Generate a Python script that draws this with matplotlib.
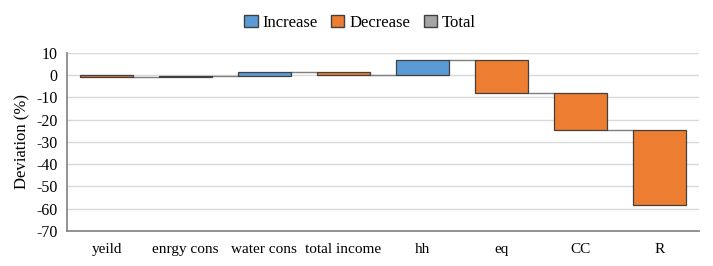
import matplotlib
matplotlib.use("Agg")
import matplotlib.pyplot as plt
from matplotlib.patches import Patch
import numpy as np

# Waterfall data (change in % deviation per step)
categories = ["yeild", "enrgy cons", "water cons", "total income",
              "hh", "eq", "CC", "R"]
changes = [-0.8, 0.3, 2.0, -1.3, 6.5, -14.6, -16.8, -33.5]

C_INC = "#5B9BD5"
C_DEC = "#ED7D31"
C_TOT = "#A5A5A5"
EDGE = "#404040"

plt.rcParams["font.family"] = ["Liberation Serif", "DejaVu Serif"]
plt.rcParams["axes.unicode_minus"] = False

ends = np.cumsum(changes)
starts = ends - np.array(changes)
x = np.arange(len(categories))
width = 0.67

fig = plt.figure(figsize=(7.13, 2.66), dpi=100)
ax = fig.add_axes([0.094, 0.132, 0.886, 0.669])

colors = [C_INC if c >= 0 else C_DEC for c in changes]
ax.bar(x, changes, bottom=starts, width=width, color=colors,
       edgecolor=EDGE, linewidth=0.9, zorder=3)

# connector lines between bars
for i in range(len(x) - 1):
    ax.plot([x[i] + width / 2, x[i + 1] - width / 2], [ends[i], ends[i]],
            color="#7F7F7F", linewidth=1.0, zorder=2)

ax.set_xlim(-0.5, len(categories) - 0.5)
ax.set_ylim(-70, 10)
ax.set_yticks(np.arange(-70, 11, 10))
ax.set_xticks(x)
ax.set_xticklabels(categories, fontsize=11)
ax.tick_params(axis="y", labelsize=11.5, length=0, pad=7)
ax.tick_params(axis="x", length=0, pad=9)
ax.yaxis.grid(True, color="#D9D9D9", linewidth=1.0, zorder=0)
ax.set_axisbelow(True)

for s in ["top", "right"]:
    ax.spines[s].set_visible(False)
ax.spines["left"].set_color("#808080")
ax.spines["bottom"].set_color("#808080")
ax.spines["left"].set_linewidth(1.2)
ax.spines["bottom"].set_linewidth(1.2)

ax.set_ylabel("Deviation (%)", fontsize=12, labelpad=4)

handles = [Patch(facecolor=C_INC, edgecolor=EDGE, label="Increase"),
           Patch(facecolor=C_DEC, edgecolor=EDGE, label="Decrease"),
           Patch(facecolor=C_TOT, edgecolor=EDGE, label="Total")]
fig.legend(handles=handles, loc="center", bbox_to_anchor=(0.505, 0.915),
           ncol=3, frameon=False, fontsize=12, handlelength=0.8,
           handleheight=0.8, handletextpad=0.3, columnspacing=0.8)

fig.savefig("out.png", dpi=100, facecolor="white")
